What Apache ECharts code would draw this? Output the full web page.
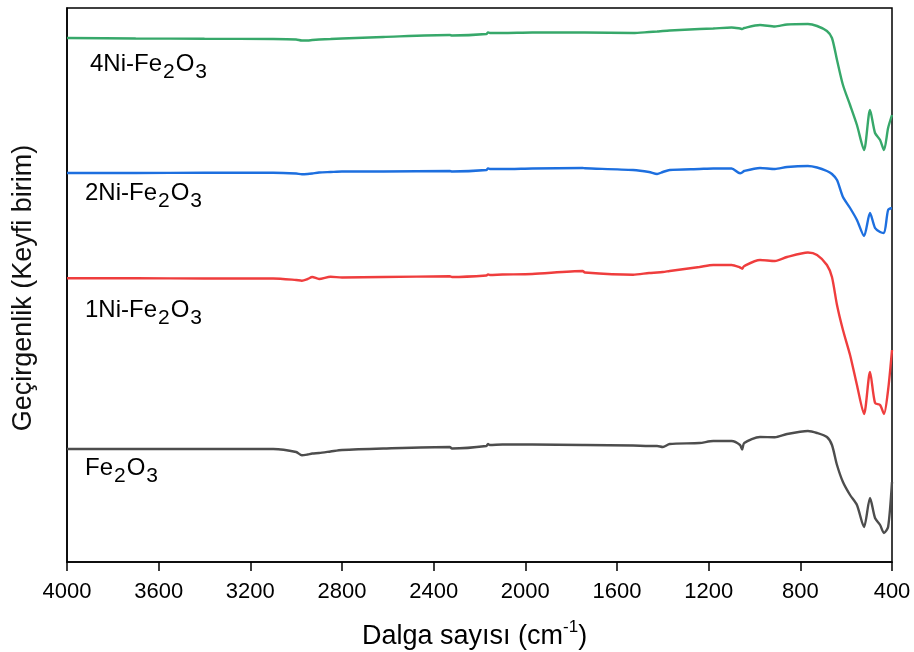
<!DOCTYPE html>
<html>
<head>
<meta charset="utf-8">
<script src="https://cdn.jsdelivr.net/npm/echarts@6/dist/echarts.min.js"></script>
<style>
html,body{margin:0;padding:0;background:#fff;}
#chart{width:914px;height:652px;}
</style>
</head>
<body>
<div id="chart"></div>
<script>
// Wavenumbers (cm^-1), shared by all spectra
const wavenumbers = [4000,3700,3400,3100,3000,2975,2950,2930,2900,2850,2800,2620,2330,2320,2170,2163,2155,2100,1970,1750,1740,1530,1460,1425,1400,1370,1240,1180,1100,1063,1054,1045,976,911,858,767,727,684,662,640,614,583,553,522,496,474,452,435,417,400];

// Transmittance, arbitrary units (vertically offset spectra)
const fe2o3 = [113,113,113,113,110,106.7,107.5,108.5,109,110.5,112,113.5,115,113.5,116,118,117,117.5,117.5,117,117,116.5,116,116,115,118,119,121,121,117,112.5,119,125,124.7,128,131,129,125,117,97,80,67,57,35,64,44,37,29,35,80];
const ni1 = [283.7,283.7,283.5,283.5,282,281.3,283,285,283,285.3,284.5,285,285.7,285,286.5,287.5,287,287.5,288,291,289.5,287.3,289,289.5,290,291,295,297,297,294.5,293.3,296,302,301,305,309.5,307,297,285,257,232,207,177,148,190,159,157,148,172,212];
const ni2 = [389,389,389.2,389.3,388.5,387.7,388,388.5,389.5,390,390.5,390.5,391,390.5,392,393.5,393,393,393.5,394,393.7,392,390,388,390,392,393,393.5,393.5,388.7,389.5,391,394,393,395,396,394.5,391,388,382,365,354,342,326,349,334,330,329,352,354];
const ni4 = [524,523.5,523.2,523,522.5,521.5,521.5,522,522.5,523,523.5,525,527,526.5,528,529.5,529,529,529.5,529.5,529.5,529,530,530.5,531,531.5,533,533.5,534.5,533.5,533,534,537,535.5,537.5,538,536,531,524,502,477,457,437,412,452,429,422,412,434,447];

const xTicks = [4000,3600,3200,2800,2400,2000,1600,1200,800,400];
const seriesNames = ['Fe2O3','1Ni-Fe2O3','2Ni-Fe2O3','4Ni-Fe2O3'];

const chart = echarts.init(document.getElementById('chart'), null, {renderer:'canvas'});
const FONT = 'Liberation Sans, Arial, sans-serif';

function pairs(ys){ return wavenumbers.map((x,i)=>[x, ys[i]]); }
function mk(name, ys, color){
  return {name, type:'line', data:pairs(ys), showSymbol:false, smooth:0.25,
    lineStyle:{color, width:2.4}, itemStyle:{color}, animation:false};
}

const main = {fontSize:24, fontFamily:FONT, color:'#111', lineHeight:32, verticalAlign:'bottom', padding:[0,0,7,0]};
const sub = {fontSize:21, fontFamily:FONT, color:'#111', lineHeight:32, verticalAlign:'bottom', padding:[0,1,0,1]};
function formula(prefix){
  return (prefix ? '{m|'+prefix+'}' : '') + '{m|Fe}{s|2}{m|O}{s|3}';
}
function label(x, y, prefix){
  return {type:'text', left:x, top:y, silent:true,
    style:{text:formula(prefix), rich:{m:main, s:sub}, fontFamily:FONT}};
}

chart.setOption({
  backgroundColor:'#fff',
  animation:false,
  grid:{left:67, right:22, top:8, bottom:90, show:true, borderColor:'#000', borderWidth:1.5, backgroundColor:'transparent'},
  xAxis:{type:'value', min:400, max:4000, interval:400, inverse:true,
    axisLine:{show:true, lineStyle:{color:'#000', width:1.5}},
    axisTick:{show:true, inside:false, length:9, lineStyle:{color:'#000', width:1.5}},
    axisLabel:{color:'#000', fontSize:22, fontFamily:FONT, margin:19, formatter:v=>String(v)},
    splitLine:{show:false}},
  yAxis:{type:'value', min:0, max:554,
    axisLine:{show:true, lineStyle:{color:'#000', width:1.5}},
    axisTick:{show:false}, axisLabel:{show:false}, splitLine:{show:false}},
  series:[
    mk(seriesNames[0], fe2o3, '#4d4d4d'),
    mk(seriesNames[1], ni1, '#ef3d3d'),
    mk(seriesNames[2], ni2, '#1d6fdf'),
    mk(seriesNames[3], ni4, '#37a86a')
  ],
  graphic:[
    label(90, 52, '4Ni-'),
    label(85, 181, '2Ni-'),
    label(85, 298, '1Ni-'),
    label(85, 456, ''),
    {type:'text', left:362, top:619, silent:true,
      style:{text:'{m|Dalga sayısı (cm}{p|-1}{m|)}', rich:{
        m:{fontSize:27, fontFamily:FONT, color:'#111', lineHeight:34, verticalAlign:'bottom'},
        p:{fontSize:17, fontFamily:FONT, color:'#111', lineHeight:34, verticalAlign:'bottom', padding:[0,0,14,0]}}}},
    {type:'text', x:24, y:288, rotation:Math.PI/2, silent:true,
      style:{text:'Geçirgenlik (Keyfi birim)', fontSize:27, fontFamily:FONT, fill:'#111', align:'center', verticalAlign:'middle'}}
  ]
});
</script>
</body>
</html>
